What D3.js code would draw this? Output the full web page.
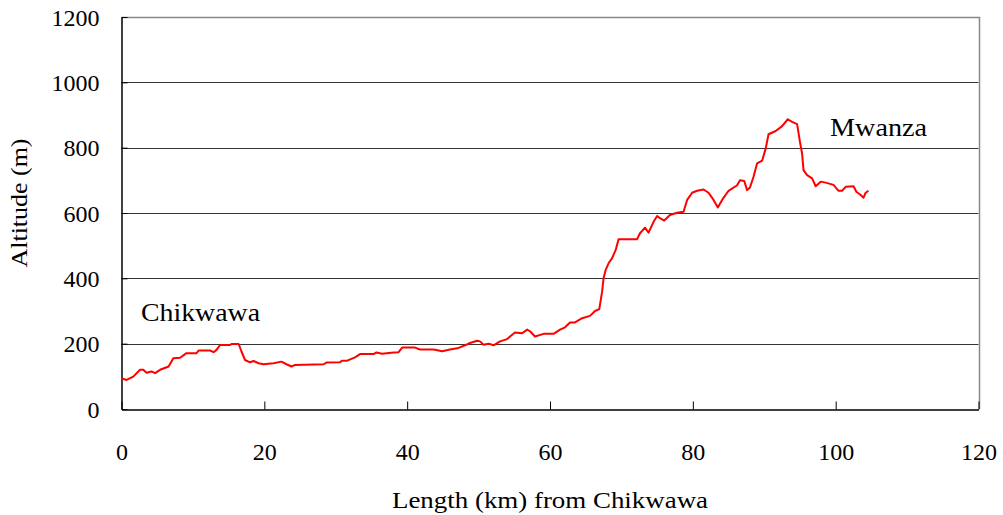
<!DOCTYPE html>
<html><head><meta charset="utf-8">
<script src="https://cdn.jsdelivr.net/npm/d3@7"></script>
<style>html,body{margin:0;padding:0;background:#fff;}svg{display:block;}
svg text{font-family:"Liberation Serif","Times New Roman",Times,serif;}</style>
</head><body>
<svg id="c" width="1003" height="515"></svg>
<script>
const lengthKm = [0,0.7,1.65,2.6,3.05,3.5,4.2,4.7,5.4,6.6,7.25,8.2,9.1,10.5,10.8,12.4,12.9,13.3,13.8,15.2,15.4,16.4,16.8,17.3,18,18.5,19.2,19.9,21.3,22.4,23.1,23.8,24.3,28.3,28.7,30.6,30.9,31.6,32.7,33.4,35.3,35.7,36.5,38.1,38.8,39.3,41.1,41.8,43.7,44.9,46.0,47.2,48.1,48.8,49.8,50.2,50.7,51.4,52.1,53.0,54.0,54.4,55.1,56.1,56.8,57.2,57.9,59.1,60.5,61.4,62.1,62.8,63.5,64.5,65.6,66.3,66.9,67.3,67.5,67.8,68.2,68.7,69.2,69.6,72.2,72.6,73.3,73.8,74.5,75.0,75.4,76.0,76.8,77.8,78.7,79.2,79.9,80.6,81.5,82.2,82.9,83.5,84.1,85.0,86.2,86.6,87.2,87.6,88.0,88.5,89.0,89.7,90.2,90.6,91.6,92.5,93.3,93.9,94.6,95.0,95.3,95.5,96.0,96.7,97.2,97.9,98.6,99.7,100.4,100.9,101.4,102.5,102.9,103.5,103.9,104.2,104.6];
const altitudeM = [94,89,99,120,120,111,115,110,120,130,155,157,171,171,179,179,174,181,196,196,199,199,176,150,143,147,140,137,140,145,137,130,135,137,142,143,148,148,158,168,168,173,169,173,174,188,188,182,182,177,182,187,195,202,209,207,197,200,195,207,214,222,234,232,243,238,222,230,230,243,250,265,265,278,285,300,306,360,400,426,446,462,487,520,520,538,555,540,573,591,584,577,594,601,604,640,662,668,672,662,640,617,640,668,685,700,698,670,678,711,752,760,797,841,851,866,887,879,872,818,782,731,716,706,682,696,693,686,668,668,680,682,665,655,647,662,668];
const xTicks = [0,20,40,60,80,100,120];
const yTicks = [0,200,400,600,800,1000,1200];
const places = ["Chikwawa","Mwanza"];
const xTitle = "Length (km) from Chikwawa";
const yTitle = "Altitude (m)";

const svg = d3.select("#c");
const x = d3.scaleLinear().domain([0,120]).range([121.5,978.5]);
const y = d3.scaleLinear().domain([0,1200]).range([409,17]);

// gridlines
svg.append("g").selectAll("line").data(yTicks.filter(d=>d>0 && d<1200)).join("line")
  .attr("x1",x(0)).attr("x2",x(120)).attr("y1",d=>Math.round(y(d))+0.5).attr("y2",d=>Math.round(y(d))+0.5)
  .attr("stroke","#333").attr("stroke-width",1);
// top & right border
svg.append("path").attr("d",`M${x(0)},${Math.round(y(1200))+0.5}H${Math.round(x(120))+0.5}V${y(0)}`)
  .attr("fill","none").attr("stroke","#888").attr("stroke-width",1.5);

// axes
const xAxis = d3.axisBottom(x).tickValues(xTicks).tickSizeInner(-8).tickSizeOuter(0).tickFormat(d3.format("d"));
const gx = svg.append("g").attr("transform",`translate(0,${Math.round(y(0))+0.5})`).call(xAxis);
gx.attr("font-family",null);
gx.select(".domain").attr("stroke","#000").attr("stroke-width",1.5);
gx.selectAll(".tick line").attr("stroke","#000");
gx.selectAll(".tick text").attr("font-size",24).attr("fill","#000").attr("dy",null).attr("y",50);

const yAxis = d3.axisLeft(y).tickValues(yTicks).tickSizeInner(-6).tickSizeOuter(0).tickFormat(d3.format("d"));
const gy = svg.append("g").attr("transform",`translate(${Math.round(x(0))-0.5},0)`).call(yAxis);
gy.attr("font-family",null);
gy.select(".domain").attr("stroke","#000").attr("stroke-width",1.5);
gy.selectAll(".tick line").attr("stroke","#000");
gy.selectAll(".tick text").attr("font-size",24).attr("fill","#000").attr("x",-22).attr("dy","0.34em");

// line
const pts = lengthKm.map((k,i)=>[k,altitudeM[i]]);
svg.append("path").datum(pts)
  .attr("d",d3.line().x(d=>x(d[0])).y(d=>y(d[1])))
  .attr("fill","none").attr("stroke","#ff0000").attr("stroke-width",2).attr("stroke-linejoin","round");

// place labels
svg.append("text").text(places[0]).attr("x",141).attr("y",321).attr("font-size",26)
  .attr("textLength",119).attr("lengthAdjust","spacingAndGlyphs");
svg.append("text").text(places[1]).attr("x",830).attr("y",136).attr("font-size",26)
  .attr("textLength",97).attr("lengthAdjust","spacingAndGlyphs");

// titles
svg.append("text").text(xTitle).attr("x",550).attr("y",508).attr("text-anchor","middle")
  .attr("font-size",24).attr("textLength",316).attr("lengthAdjust","spacingAndGlyphs");
svg.append("text").text(yTitle).attr("transform","translate(27,203) rotate(-90)").attr("text-anchor","middle")
  .attr("font-size",23).attr("textLength",129).attr("lengthAdjust","spacingAndGlyphs");
</script>
</body></html>
